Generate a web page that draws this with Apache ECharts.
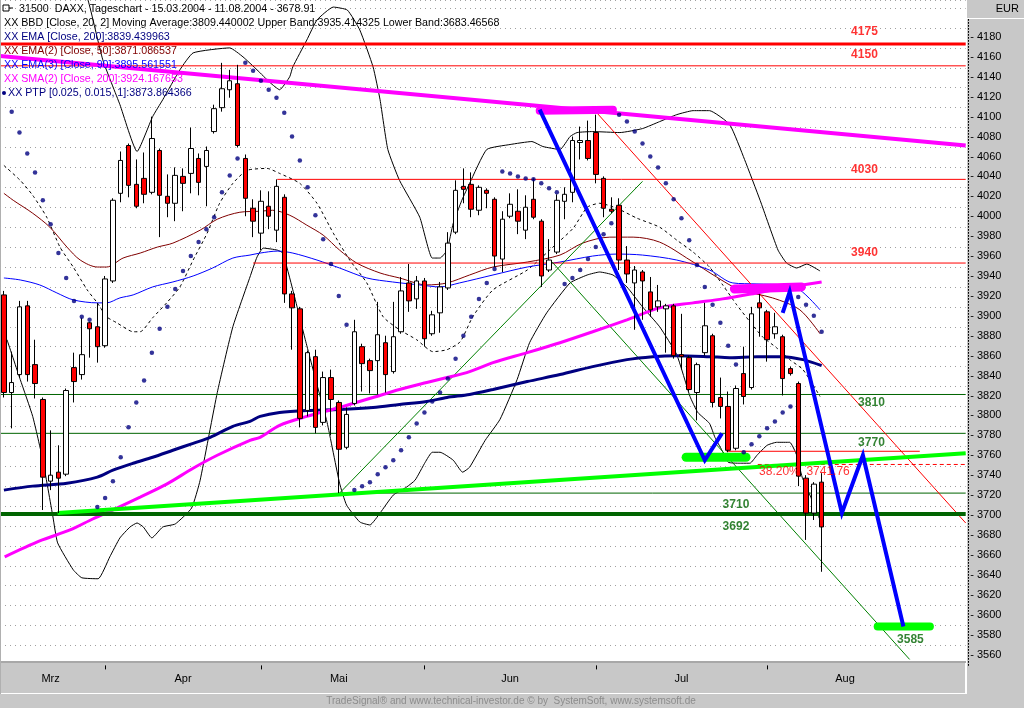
<!DOCTYPE html>
<html>
<head>
<meta charset="utf-8">
<script src="https://cdn.jsdelivr.net/npm/echarts@6.0.0/dist/echarts.min.js"></script>
<style>
html,body{margin:0;padding:0;background:#ffffff;}
#chart{width:1024px;height:708px;}
</style>
</head>
<body>
<div id="chart"></div>
<script>
// ---------- axis / labels ----------
const monthLabels = ['Mrz','Apr','Mai','Jun','Jul','Aug'];
const monthLabelIdx = [6,23,43,65,87,108];
const monthStartIdx = [13,33,54,76,98];
const holidays = ['2004-04-09','2004-04-12'];
const slotCount = 124;
const categories = (function(){
  const out = []; const d = new Date(Date.UTC(2004,2,15));
  while (out.length < slotCount) {
    const wd = d.getUTCDay(); const s = d.toISOString().slice(0,10);
    if (wd !== 0 && wd !== 6 && holidays.indexOf(s) < 0) out.push(s);
    d.setUTCDate(d.getUTCDate()+1);
  }
  return out;
})();

// ---------- prices: [open, close, low, high] ----------
const ohlc = [
[3912,3814,3809,3916],[3814,3824,3778,3855],[3832,3900,3829,3906],[3901,3832,3825,3906],[3842,3823,3808,3867],
[3807,3729,3696,3809],[3725,3731,3716,3776],[3734,3728,3693,3761],[3732,3816,3730,3818],[3839,3825,3804,3854],
[3832,3852,3827,3889],[3884,3878,3849,3885],[3880,3860,3844,3904],[3861,3928,3859,3931],[3926,4007,3924,4009],
[4014,4047,4005,4056],[4062,4022,4010,4064],[4023,4001,3999,4048],[4029,4013,4004,4055],[4015,4069,4013,4091],
[4057,4012,3970,4059],[4011,4004,3990,4033],[4004,4032,3986,4040],[4031,4024,3996,4039],[4034,4059,4014,4080],
[4049,4025,4012,4054],[4041,4057,4001,4061],[4076,4099,4074,4103],[4100,4119,4096,4145],[4118,4127,4110,4138],
[4124,4062,4060,4143],[4049,4009,3991,4053],[3999,3986,3970,4008],[3974,4006,3957,4017],[4001,3991,3978,4016],
[3977,4021,3965,4028],[4010,3913,3904,4013],[3913,3899,3857,3916],[3898,3788,3779,3900],[3796,3854,3790,3856],
[3850,3779,3773,3857],[3784,3829,3781,3835],[3829,3807,3771,3837],[3804,3757,3713,3806],[3759,3792,3757,3799],
[3803,3875,3801,3887],[3860,3843,3815,3863],[3846,3836,3813,3848],[3846,3872,3812,3905],[3864,3832,3814,3871],
[3835,3870,3833,3905],[3875,3916,3873,3930],[3924,3906,3895,3943],[3908,3926,3898,3931],[3926,3868,3860,3929],
[3873,3892,3871,3896],[3894,3920,3874,3925],[3919,3964,3917,3975],[3975,4017,3973,4027],[4021,4018,4004,4039],
[4023,3998,3990,4035],[3997,4020,3992,4022],[4017,4014,3999,4019],[4008,3951,3940,4010],[3948,3988,3935,3996],
[3991,4003,3989,4014],[3996,3986,3973,4018],[3977,4000,3968,4012],[4008,3990,3988,4029],[3986,3931,3920,3988],
[3937,3947,3935,3968],[3955,4007,3953,4013],[4006,4013,3988,4020],[4015,4067,4005,4071],[4065,4067,4048,4081],
[4067,4049,4047,4087],[4075,4033,4024,4093],[4029,3999,3990,4031],[3998,3996,3994,4010],[4002,3947,3937,4009],
[3947,3933,3924,3961],[3924,3937,3877,3941],[3935,3926,3887,3937],[3915,3897,3890,3930],[3900,3906,3895,3922],
[3898,3901,3854,3903],[3901,3851,3848,3903],[3852,3850,3837,3893],[3849,3817,3815,3851],[3814,3842,3786,3844],
[3854,3881,3851,3904],[3871,3804,3799,3873],[3809,3800,3788,3829],[3800,3756,3754,3815],[3758,3818,3756,3821],
[3833,3810,3802,3860],[3819,3893,3817,3900],[3904,3899,3870,3913],[3895,3867,3845,3897],[3873,3880,3868,3894],
[3870,3828,3811,3872],[3838,3833,3831,3840],[3823,3730,3720,3825],[3728,3693,3666,3731],[3693,3722,3686,3724],
[3724,3679,3634,3733]
];

// ---------- parabolic SAR (PTP) ----------
const sar = [null,4096,4075,4054,4035,4007,3983,3954,3929,3906,3890,3887,
3699,3708,3725,3749,3779,3804,3826,3854,3878,3900,3918,3936,3951,3965,3978,3990,4015,4032,4049,
4145,4137,4127,4118,4110,4095,4071,4047,4020,3992,3968,3943,3911,3882,
3716,3720,3724,3732,3739,3746,3756,3769,3783,3794,3805,3814,3828,3848,3871,3890,3908,3924,3938,
4036,4034,4031,4029,4028,4024,4019,4015,
3923,3929,3937,3948,3960,3973,3984,
4093,4086,4076,4064,4051,4040,4024,4008,3989,3967,3942,3920,3902,3884,3861,3842,
3754,3762,3770,3778,3785,3794,3800,
3910,3902,3891,3875];

// ---------- indicator lines, read as [bar index, value] ----------
const ema200 = [[0,3716],[3.7,3720],[8.1,3723],[12,3729],[14,3736],[16.6,3743],[19.1,3749],[21.7,3756],[24.3,3763],[26.5,3769],[29.4,3780],[31.6,3785],[32.9,3790],[35.4,3794],[38.9,3796],[43.1,3797],[47.4,3799],[50.8,3802],[54.3,3805],[56.9,3809],[59.8,3812],[62.8,3817],[67.2,3825],[71.4,3832],[75.6,3840],[80,3847],[83.3,3850],[86.4,3851],[90.6,3850],[93.2,3849],[96.7,3850],[100,3850],[102.6,3847],[105,3841]];
const sma200 = [[0.1,3649],[4.6,3665],[8.5,3676],[11.4,3687],[14.5,3698],[17.5,3709],[20.9,3722],[24.3,3738],[27.4,3751],[31.6,3766],[32.9,3769],[35.4,3781],[38.9,3790],[43.1,3799],[47.4,3809],[50.8,3817],[54.3,3824],[56.9,3829],[59.8,3835],[62.8,3844],[67.2,3854],[71.4,3864],[75.6,3875],[80,3887],[84.2,3899],[88.5,3904],[92.3,3908],[96.7,3914],[101,3920],[105,3925]];
const ema90 = [[0,3929],[2.1,3927],[4.6,3922],[6.8,3914],[8.9,3907],[12,3904],[13.2,3904],[14.9,3909],[16.6,3912],[19.1,3920],[21.7,3925],[24.3,3931],[26.8,3939],[29.4,3949],[31.6,3952],[32.9,3954],[35.1,3956],[37.1,3954],[40.2,3947],[43.1,3939],[46.6,3929],[49.9,3925],[53.4,3922],[56,3920],[58.5,3924],[62.8,3932],[67.2,3940],[71.4,3945],[75.6,3951],[78.7,3953],[82,3952],[86.4,3947],[90.6,3937],[93.6,3924],[96.7,3923],[100,3922],[102.2,3917],[104.8,3897]];
const ema50 = [[0,4014],[1.2,4007],[3.7,3994],[5.9,3980],[8.1,3960],[9.8,3947],[12,3940],[13.2,3940],[15.3,3949],[17.5,3954],[19.7,3960],[21.7,3964],[25.2,3977],[27.4,3988],[30.3,3995],[32.9,3996],[34.5,3997],[36.7,3992],[38.9,3982],[41,3972],[43.1,3957],[45.3,3944],[48.3,3934],[50.8,3929],[54.3,3922],[56.9,3924],[59.8,3932],[62.8,3940],[67.2,3945],[71.4,3952],[74.3,3964],[77.8,3970],[80.8,3970],[84.2,3965],[88.1,3947],[91.5,3930],[94.5,3917],[98.7,3909],[102.2,3897],[104.8,3873]];
const bbUpper = [[0,4216],[5,4240],[8.9,4244],[10.8,4208],[12.7,4148],[14.9,4103],[17.1,4056],[19.1,4091],[20.4,4108],[22.6,4138],[24.3,4155],[29,4160],[30.7,4151],[32.5,4138],[34.2,4125],[35.4,4118],[36.7,4131],[37.1,4141],[38.9,4168],[40.2,4188],[42.3,4201],[44.1,4198],[45.7,4178],[47.4,4141],[48.3,4108],[49.3,4058],[50.8,4027],[53.4,3990],[55,3949],[56,3949],[56.9,3957],[57.7,3984],[58.8,4007],[59.8,4024],[62,4058],[65,4063],[67.8,4066],[69.2,4061],[71.4,4058],[72.7,4071],[73.6,4075],[75.6,4076],[79.1,4075],[82,4079],[84.2,4086],[86.4,4093],[88.5,4097],[90.6,4097],[93.2,4083],[95.1,4048],[97.1,4007],[99.4,3957],[100.5,3944],[101.8,3939],[103.1,3943],[104.8,3936]];
const bbMiddle = [[0,4042],[2.1,4027],[3.7,4012],[5.5,3990],[7.2,3960],[8.9,3940],[10.7,3917],[12,3904],[13.2,3890],[14.5,3884],[16.6,3875],[17.5,3875],[19.1,3889],[20.9,3904],[22.6,3920],[24.3,3947],[26.1,3974],[27.7,4004],[29.4,4024],[31.2,4037],[33.8,4039],[35.4,4034],[38,4024],[40.2,4004],[42.3,3974],[44.4,3947],[46.6,3924],[48.7,3890],[50.8,3877],[53,3867],[55.1,3855],[56.9,3857],[58.6,3865],[60.2,3890],[62.8,3917],[67.2,3937],[70.5,3960],[73.1,3979],[74.9,4000],[76.5,4004],[78.7,3999],[81.3,3989],[84.2,3980],[86.4,3967],[88.5,3955],[90.6,3940],[92.3,3922],[94.1,3902],[95.8,3885],[97.4,3870],[99.2,3859],[100.9,3847],[102.6,3837],[104.8,3810]];
const bbLower = [[0.4,3867],[2.1,3827],[3.7,3790],[5,3746],[6.3,3689],[6.9,3663],[8.9,3636],[10,3628],[12.1,3627],[13.6,3649],[14.9,3668],[16.2,3679],[17.1,3683],[17.9,3679],[19,3668],[20.4,3679],[22,3682],[24.1,3698],[25.2,3726],[27.4,3814],[29.4,3880],[31.6,3930],[32.5,3950],[33.3,3959],[35.1,3957],[35.8,3954],[37.1,3917],[38.7,3867],[40.2,3822],[41.5,3784],[43.1,3723],[44,3701],[45.7,3684],[47,3681],[48.3,3693],[50,3711],[51.7,3719],[52.8,3726],[54.1,3744],[55,3754],[56,3754],[57.7,3746],[58.9,3734],[59.8,3739],[61.8,3766],[63.7,3787],[65.9,3827],[67.5,3864],[69.7,3894],[72.7,3924],[74.9,3932],[76.5,3935],[78.2,3932],[80,3920],[82,3900],[84.2,3880],[86.4,3852],[88.1,3810],[89.1,3794],[90.6,3783],[91.3,3769],[92.2,3756],[93,3744],[94.5,3743],[95.8,3743],[96.7,3751],[98,3761],[99.2,3764],[100.9,3764],[101.8,3751],[102.5,3729],[103.5,3711],[104.9,3684]];

// ---------- drawn levels and trend lines, [bar index, value] ----------
const lvl4175 = [[-0.5,4164],[123.5,4164]];
const lvl4150 = [[-0.5,4142],[123.5,4142]];
const lvl4030 = [[35.1,4028],[123.5,4028]];
const lvl3940 = [[32.0,3944],[123.5,3944]];
const lvl3810 = [[-0.5,3812],[123.5,3812]];
const lvl3770 = [[-0.5,3773],[123.5,3773]];
const lvl3710 = [[43.1,3713],[123.5,3713]];
const lvl3692 = [[-0.5,3692],[123.5,3692]];
const lvlRed3755 = [[92.8,3755],[117.6,3755]];
const fib382 = [[96.8,3741.76],[123.5,3741.76]];
const resistance = [[-0.5,4152],[123.5,4062]];
const support = [[6.9,3693],[123.5,3753]];
const redFan = [[76,4096],[123.5,3683]];
const greenUp = [[43.1,3713],[82.0,4026]];
const greenDown = [[70.4,3945],[116.3,3546]];
const zigzagA = [[68.8,4098],[90.0,3746],[92.2,3773]];
const zigzagB = [[100.0,3894],[100.9,3915],[107.6,3693],[110.3,3751],[115.5,3579]];
const markTop = [[68.8,4097],[78.2,4098]];
const markMid = [[93.8,3918],[102.4,3920]];
const markLow1 = [[87.6,3749],[95.3,3749]];
const markLow2 = [[112.2,3579],[118.9,3579]];

const levelTexts = ['4175','4150','4030','3940','3810','3770','3710','3692','3585'];
const levelTextAt = [[110.5,4176],[110.5,4153],[110.5,4038],[110.5,3954],[111.4,3804],[111.4,3764],[94.0,3701],[94.0,3679],[116.4,3566]];
const fibText = '38.20%  3741.76';
const fibTextAt = [96.9,3735];

const legendLines = [
  'XX BBD [Close, 20, 2] Moving Average:3809.440002 Upper Band:3935.414325 Lower Band:3683.46568',
  'XX EMA [Close, 200]:3839.439963',
  'XX EMA(2) [Close, 50]:3871.086537',
  'XX EMA(3) [Close, 90]:3895.561551',
  'XX SMA(2) [Close, 200]:3924.167653',
  'XX PTP [0.025, 0.015, 1]:3873.864366'
];
const titleText = '31500  DAXX, Tageschart - 15.03.2004 - 11.08.2004 - 3678.91';

// ---------- build ----------
const FONT = '"Liberation Sans", Arial, sans-serif';
const RED = '#ff0000', DKGREEN = '#006400', MAG = '#ff00ff';

function ln(data, color, width, extra, lsExtra) {
  return Object.assign({
    type:'line', xAxisIndex:1, yAxisIndex:0, data: data,
    symbol:'none', showSymbol:false, silent:true, animation:false, clip:true,
    lineStyle: Object.assign({color: color, width: width}, lsExtra || {}), z: 3
  }, extra || {});
}

const series = [
  ln(bbUpper, '#000000', 1, {smooth:0.15}),
  ln(bbLower, '#000000', 1, {smooth:0.15}),
  ln(bbMiddle, '#000000', 1, {smooth:0.2}, {type:[3,3]}),
  ln(ema50, '#800000', 1, {smooth:0.3}),
  ln(ema90, '#0000ff', 1, {smooth:0.3}),
  ln(lvl4150, RED, 1), ln(lvl4030, RED, 1), ln(lvl3940, RED, 1),
  ln(lvl3810, DKGREEN, 1), ln(lvl3770, DKGREEN, 1), ln(lvl3710, DKGREEN, 1),
  ln(redFan, RED, 1), ln(greenUp, '#008000', 1), ln(greenDown, '#008000', 1),
  {
    type:'candlestick', xAxisIndex:0, yAxisIndex:0, data: ohlc, barWidth:5, clip:true,
    silent:true, animation:false, z:3,
    itemStyle:{color:'#ffffff', color0:'#ff0000', borderColor:'#000000', borderColor0:'#000000', borderWidth:1}
  },
  ln(ema200, '#000080', 3, {smooth:0.3}),
  ln(sma200, MAG, 3, {smooth:0.3}),
  {
    type:'scatter', xAxisIndex:0, yAxisIndex:0, silent:true, animation:false, z:4,
    data: sar.map(function(v){ return v === null ? '-' : v; }),
    symbol:'circle', symbolSize:4.5, itemStyle:{color:'#000080'}
  },
  ln(lvl4175, RED, 3), ln(lvl3692, DKGREEN, 4),
  ln(lvlRed3755, RED, 1), ln(fib382, RED, 1, null, {type:[4,3]}),
  ln(resistance, MAG, 4), ln(support, '#00ff00', 4),
  ln(markTop, MAG, 8, null, {cap:'round'}), ln(markMid, MAG, 9, null, {cap:'round'}),
  ln(markLow1, '#00ff00', 9, null, {cap:'round'}), ln(markLow2, '#00ff00', 8, null, {cap:'round'}),
  ln(zigzagA, '#0000ff', 4, {z:5}, {join:'miter'}), ln(zigzagB, '#0000ff', 4, {z:5}, {join:'miter'}),
  {
    type:'scatter', xAxisIndex:1, yAxisIndex:0, silent:true, animation:false, z:6,
    symbol:'circle', symbolSize:1, itemStyle:{color:'rgba(0,0,0,0)'},
    data: levelTexts.map(function(t, k){ return {value: levelTextAt[k], name: t,
      label:{color: k < 4 ? RED : DKGREEN}}; }),
    label:{show:true, position:'inside', formatter:'{b}', fontFamily:FONT, fontSize:12, fontWeight:'bold'}
  },
  {
    type:'scatter', xAxisIndex:1, yAxisIndex:0, silent:true, animation:false, z:6,
    symbol:'circle', symbolSize:1, itemStyle:{color:'rgba(0,0,0,0)'},
    data: [{value: fibTextAt, name: fibText}],
    label:{show:true, position:'right', distance:0, formatter:'{b}', fontFamily:FONT, fontSize:12, color:RED}
  }
];

const graphic = [
  {type:'rect', shape:{x:966,y:0,width:58,height:708}, style:{fill:'#c8c8c8'}, z:10, silent:true},
  {type:'rect', shape:{x:967,y:0,width:57,height:18}, style:{fill:'#c8c8c8'}, z:21, silent:true},
  {type:'rect', shape:{x:966,y:18,width:58,height:1}, style:{fill:'#ffffff'}, z:22, silent:true},
  {type:'rect', shape:{x:966,y:0,width:1,height:694}, style:{fill:'#ffffff'}, z:11, silent:true},
  {type:'rect', shape:{x:0,y:661,width:966,height:47}, style:{fill:'#c8c8c8'}, z:10, silent:true},
  {type:'rect', shape:{x:0,y:661,width:966,height:2}, style:{fill:'#a8a8a8'}, z:11, silent:true},
  {type:'rect', shape:{x:0,y:693,width:966,height:1}, style:{fill:'#ffffff'}, z:11, silent:true},
  {type:'rect', shape:{x:965,y:663,width:1,height:31}, style:{fill:'#ffffff'}, z:11, silent:true},
  {type:'rect', shape:{x:0,y:0,width:1,height:694}, style:{fill:'#b0b0b0'}, z:11, silent:true},
  {type:'text', z:23, silent:true, style:{text:'EUR', x:1019, y:9, align:'right', textAlign:'right', verticalAlign:'middle', textVerticalAlign:'middle', font:'11px ' + FONT, fill:'#000000'}},
  {type:'text', z:12, silent:true, style:{text:'TradeSignal\u00ae and www.technical-investor.de \u00a9 by  SystemSoft, www.systemsoft.de', x:511, y:701, align:'center', textAlign:'center', verticalAlign:'middle', textVerticalAlign:'middle', font:'10px ' + FONT, fill:'#8c8c8c'}},
  {type:'rect', z:30, silent:true, shape:{x:3,y:5,width:6,height:6}, style:{fill:'none', stroke:'#000000', lineWidth:1}},
  {type:'line', z:30, silent:true, shape:{x1:9,y1:8,x2:13,y2:8}, style:{stroke:'#000000', lineWidth:1}},
  {type:'text', z:30, silent:true, style:{text:titleText, x:19, y:9, verticalAlign:'middle', textVerticalAlign:'middle', font:'10.7px ' + FONT, fill:'#000000'}},
  {type:'circle', z:30, silent:true, shape:{cx:4,cy:93,r:2}, style:{fill:'#000080'}}
];
const legendColors = ['#000000','#000080','#800000','#0000ff','#ff00ff','#000080'];
legendLines.forEach(function(t, k){
  graphic.push({type:'text', z:30, silent:true, style:{text:t, x: k === 5 ? 8 : 4, y: 23.5 + k*14, verticalAlign:'middle', textVerticalAlign:'middle', font:'10.7px ' + FONT, fill: legendColors[k]}});
});

const option = {
  animation:false,
  backgroundColor:'#ffffff',
  grid:{left:0, right:58.3, top:0, bottom:42.6, containLabel:false},
  xAxis:[
    {type:'category', data:categories, boundaryGap:true, z:20,
     axisLine:{show:false},
     axisTick:{show:true, alignWithLabel:true, length:4, lineStyle:{color:'#000000'},
       interval:function(i){ return monthStartIdx.indexOf(i) >= 0; }},
     axisLabel:{show:true, margin:8, color:'#000000', fontFamily:FONT, fontSize:11,
       interval:function(i){ return monthLabelIdx.indexOf(i) >= 0; },
       formatter:function(v, i){ const k = monthLabelIdx.indexOf(i); return k >= 0 ? monthLabels[k] : ''; }},
     splitLine:{show:false}},
    {type:'value', min:-0.5, max:123.5, show:false}
  ],
  yAxis:[
    {type:'value', position:'right', min:3540, max:4208.1, interval:20, scale:true,
     axisLine:{show:false}, axisTick:{show:false}, axisLabel:{show:false},
     splitLine:{show:true, lineStyle:{color:'#a0a0a0', width:1, type:[1,4]}}},
    {type:'value', position:'right', min:3540, max:4208.1, interval:20, scale:true, offset:2.5, z:20,
     axisLine:{show:true, lineStyle:{color:'#000000', width:1, type:[1,2]}},
     axisTick:{show:false}, splitLine:{show:false},
     axisLabel:{show:true, margin:2, color:'#000000', fontFamily:FONT, fontSize:11, align:'left',
       verticalAlign:'top', lineHeight:18,
       formatter:function(v){ const r = Math.round(v); return (r >= 3560 && r <= 4180 && Math.abs(v - r) < 0.01) ? '- ' + r : ''; }}}
  ],
  graphic: graphic,
  series: series
};

const chart = echarts.init(document.getElementById('chart'), null, {renderer:'canvas'});
chart.setOption(option);
</script>
</body>
</html>
